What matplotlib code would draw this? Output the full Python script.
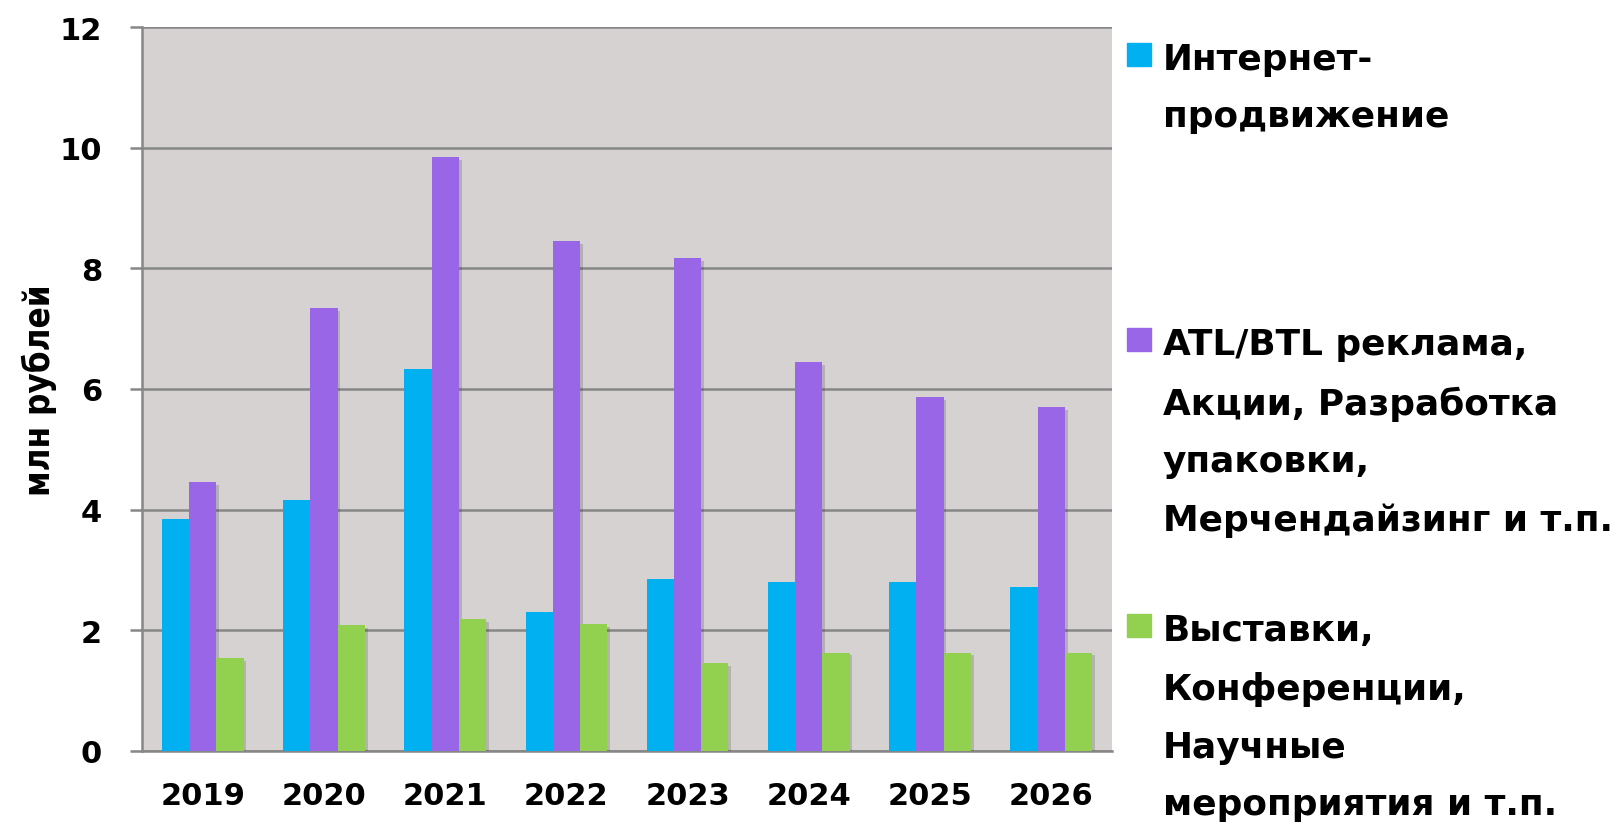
import numpy as np
import matplotlib
matplotlib.use('Agg')
import matplotlib.pyplot as plt
from matplotlib.patches import Rectangle
import matplotlib.patheffects as pe

# dane
lata = ['2019', '2020', '2021', '2022', '2023', '2024', '2025', '2026']
internet = [3.85, 4.16, 6.33, 2.31, 2.85, 2.80, 2.80, 2.71]
atl_btl = [4.46, 7.34, 9.84, 8.45, 8.17, 6.44, 5.87, 5.70]
wystawy = [1.54, 2.08, 2.19, 2.10, 1.46, 1.63, 1.63, 1.63]
etykiety = ['Интернет-\nпродвижение',
            'ATL/BTL реклама,\nАкции, Разработка\nупаковки,\nМерчендайзинг и т.п.',
            'Выставки,\nКонференции,\nНаучные\nмероприятия и т.п.']
kolory = ['#00B0F0', '#9966E8', '#92D050']

fig = plt.figure(figsize=(16.16, 8.28), dpi=100)
ax = fig.add_axes([0.088, 0.092, 0.6, 0.874])
ax.set_facecolor('#D6D2D2')

x = np.arange(len(lata))
w = 0.224
cien = [pe.SimplePatchShadow(offset=(2, -2), alpha=0.2), pe.Normal()]
for i, (dane, kol) in enumerate(zip([internet, atl_btl, wystawy], kolory)):
    bars = ax.bar(x + (i - 1) * w, dane, w, color=kol, zorder=3)
    for b in bars:
        b.set_path_effects(cien)

ax.set_xlim(-0.5, 7.5)
ax.set_ylim(0, 12)
ax.set_yticks(range(0, 13, 2))
ax.set_xticks(x)
ax.set_xticklabels(lata)
szary = '#878787'
ax.grid(axis='y', color=szary, linewidth=1.8, zorder=1)
ax.set_axisbelow(True)
for s in ['top', 'right']:
    ax.spines[s].set_visible(False)
ax.spines['left'].set_color(szary)
ax.spines['left'].set_linewidth(1.8)
ax.spines['bottom'].set_color(szary)
ax.spines['bottom'].set_linewidth(1.8)
ax.tick_params(axis='y', length=9, width=1.8, color=szary, pad=20,
               labelsize=22)
ax.tick_params(axis='x', length=0, pad=22, labelsize=22)
for t in ax.get_xticklabels() + ax.get_yticklabels():
    t.set_fontweight('bold')

ax.set_ylabel('млн рублей', fontsize=25, fontweight='bold',
              fontstretch='condensed', family='DejaVu Sans')
ax.yaxis.set_label_coords(-0.088, 0.5)

# legenda recznie
W, H = 1616, 828
poz_y = [44, 329, 615]
for kol, etk, py in zip(kolory, etykiety, poz_y):
    fig.add_artist(Rectangle((1127 / W, 1 - (py + 23) / H), 24 / W, 23 / H,
                             transform=fig.transFigure, color=kol))
    fig.text(1163 / W, 1 - (py - 1) / H, etk, fontsize=25.8, fontweight='bold',
             va='top', ha='left', linespacing=1.87)

plt.savefig('out.png', dpi=100)
